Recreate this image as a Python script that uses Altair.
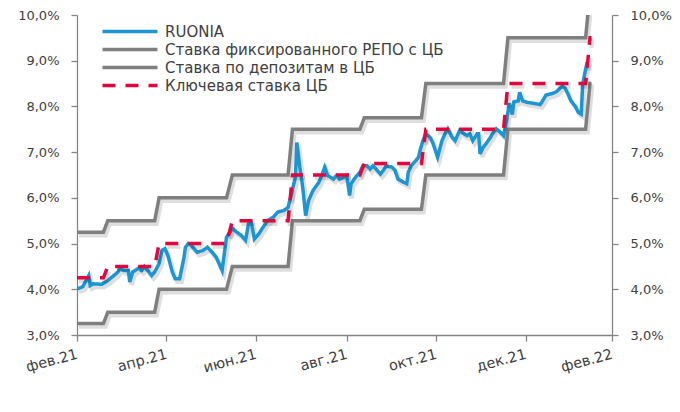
import altair as alt
import pandas as pd

# ---------------- data ----------------
ruonia_dates = [
    "2021-03-01", "2021-03-03", "2021-03-05", "2021-03-09", "2021-03-10", "2021-03-12",
    "2021-03-18", "2021-03-22", "2021-03-25", "2021-03-29", "2021-03-30", "2021-04-02",
    "2021-04-05", "2021-04-06", "2021-04-08", "2021-04-12", "2021-04-14", "2021-04-16",
    "2021-04-19", "2021-04-21", "2021-04-23", "2021-04-26", "2021-04-28", "2021-04-30",
    "2021-05-02", "2021-05-05", "2021-05-07", "2021-05-10", "2021-05-13", "2021-05-14",
    "2021-05-16", "2021-05-18", "2021-05-22", "2021-05-26", "2021-05-29", "2021-06-02",
    "2021-06-04", "2021-06-08", "2021-06-11", "2021-06-15", "2021-06-18", "2021-06-21",
    "2021-06-24", "2021-06-26", "2021-06-28", "2021-06-30", "2021-07-03", "2021-07-06",
    "2021-07-09", "2021-07-13", "2021-07-16", "2021-07-20", "2021-07-23", "2021-07-25",
    "2021-07-28", "2021-07-29", "2021-07-31", "2021-08-02", "2021-08-04", "2021-08-06",
    "2021-08-09", "2021-08-13", "2021-08-15", "2021-08-17", "2021-08-19", "2021-08-23",
    "2021-08-25", "2021-08-27", "2021-08-30", "2021-09-01", "2021-09-03", "2021-09-04",
    "2021-09-07", "2021-09-10", "2021-09-12", "2021-09-15", "2021-09-17", "2021-09-19",
    "2021-09-21", "2021-09-24", "2021-09-26", "2021-09-28", "2021-10-02", "2021-10-04",
    "2021-10-06", "2021-10-10", "2021-10-12", "2021-10-13", "2021-10-15", "2021-10-18",
    "2021-10-20", "2021-10-21", "2021-10-23", "2021-10-25", "2021-10-28", "2021-10-30",
    "2021-11-02", "2021-11-05", "2021-11-07", "2021-11-09", "2021-11-12", "2021-11-14",
    "2021-11-17", "2021-11-20", "2021-11-22", "2021-11-24", "2021-11-26", "2021-11-29",
    "2021-11-30", "2021-12-01", "2021-12-03", "2021-12-05", "2021-12-08", "2021-12-10",
    "2021-12-12", "2021-12-15", "2021-12-17", "2021-12-19", "2021-12-21", "2021-12-23",
    "2021-12-24", "2021-12-27", "2021-12-28", "2021-12-30", "2022-01-02", "2022-01-06",
    "2022-01-11", "2022-01-13", "2022-01-15", "2022-01-19", "2022-01-22", "2022-01-26",
    "2022-01-28", "2022-01-30", "2022-02-01", "2022-02-04", "2022-02-06", "2022-02-08",
    "2022-02-09", "2022-02-12",
]
ruonia_values = [
    4.01, 4.03, 4.06, 4.30, 4.08, 4.12,
    4.11, 4.19, 4.27, 4.38, 4.45, 4.41,
    4.41, 4.16, 4.38, 4.46, 4.41, 4.50,
    4.38, 4.30, 4.38, 4.56, 4.85, 4.89,
    4.74, 4.38, 4.23, 4.23, 4.70, 4.92,
    5.00, 4.96, 4.81, 4.85, 4.92, 4.78,
    4.70, 4.41, 5.14, 5.33, 5.25, 5.18,
    5.07, 5.43, 5.45, 5.10, 5.21, 5.36,
    5.50, 5.58, 5.69, 5.72, 5.79, 6.05,
    6.45, 7.21, 6.67, 6.23, 5.61, 5.94,
    6.16, 6.34, 6.49, 6.67, 6.49, 6.41,
    6.49, 6.41, 6.45, 6.49, 6.05, 6.31,
    6.45, 6.56, 6.70, 6.70, 6.63, 6.70,
    6.63, 6.52, 6.60, 6.70, 6.67, 6.60,
    6.41, 6.34, 6.31, 6.56, 6.70, 6.81,
    6.89, 7.03, 7.25, 7.40, 7.32, 7.18,
    6.89, 7.25, 7.40, 7.51, 7.32, 7.25,
    7.47, 7.40, 7.36, 7.40, 7.25, 7.40,
    7.40, 6.96, 7.10, 7.18, 7.32, 7.43,
    7.51, 7.43, 7.36, 7.69, 8.07, 7.82,
    8.10, 8.12, 8.31, 8.12, 8.09, 8.07,
    8.04, 8.14, 8.25, 8.28, 8.32, 8.44,
    8.40, 8.27, 8.12, 8.00, 7.87, 7.83,
    8.49, 8.97,
]

rate_start = "2021-03-01"
rate_end = "2022-02-15"
rate_last_old_dates = ["2021-03-19", "2021-04-23", "2021-06-11", "2021-07-23",
                       "2021-09-10", "2021-10-22", "2021-12-17", "2022-02-11"]
rate_change_dates = ["2021-03-22", "2021-04-26", "2021-06-15", "2021-07-26",
                     "2021-09-13", "2021-10-25", "2021-12-20", "2022-02-14"]
key_rate = [4.25, 4.5, 5.0, 5.5, 6.5, 6.75, 7.5, 8.5, 9.5]
repo_rate = [5.25, 5.5, 6.0, 6.5, 7.5, 7.75, 8.5, 9.5, 10.5]
deposit_rate = [3.25, 3.5, 4.0, 4.5, 5.5, 5.75, 6.5, 7.5, 8.5]

series_names = ["RUONIA", "Ставка фиксированного РЕПО с ЦБ",
                "Ставка по депозитам в ЦБ", "Ключевая ставка ЦБ"]
series_colors = ["#1b96d3", "#7f7f7f", "#7f7f7f", "#e2063f"]
series_dashes = [[1, 0], [1, 0], [1, 0], [13, 10]]

tick_month_keys = ["2021-03", "2021-05", "2021-07", "2021-09", "2021-11", "2022-01", "2022-03"]
tick_labels = ["фев.21", "апр.21", "июн.21", "авг.21", "окт.21", "дек.21", "фев.22"]
y_ticks = [3, 4, 5, 6, 7, 8, 9, 10]

# ---------------- build table ----------------
rows = [{"date": d, "value": v, "series": series_names[0]}
        for d, v in zip(ruonia_dates, ruonia_values)]


def step_rows(name, vals):
    out = [{"date": rate_start, "value": vals[0], "series": name}]
    for i, (d0, d1) in enumerate(zip(rate_last_old_dates, rate_change_dates)):
        out.append({"date": d0, "value": vals[i], "series": name})
        out.append({"date": d1, "value": vals[i + 1], "series": name})
    out.append({"date": rate_end, "value": vals[-1], "series": name})
    return out


rows += step_rows(series_names[1], repo_rate)
rows += step_rows(series_names[2], deposit_rate)
rows += step_rows(series_names[3], key_rate)
df = pd.DataFrame(rows)
df["date"] = pd.to_datetime(df["date"])

# ---------------- encodings ----------------
FONT = "DejaVu Sans"
TXT = "#404040"
AX = "#868686"

x_vals = [alt.DateTime(year=int(k[:4]), month=int(k[5:]), date=1) for k in tick_month_keys]
x_label_expr = "[" + ",".join(f"'{l}'" for l in tick_labels) + "][indexof([" + \
    ",".join(f"'{k}'" for k in tick_month_keys) + "], timeFormat(datum.value, '%Y-%m'))]"

x_enc = alt.X(
    "date:T",
    scale=alt.Scale(domain=[alt.DateTime(year=2021, month=3, date=1),
                            alt.DateTime(year=2022, month=3, date=1)]),
    axis=alt.Axis(values=x_vals, labelExpr=x_label_expr, title=None, grid=False,
                  labelAngle=345, labelAlign="right", labelBaseline="middle",
                  labelPadding=13, tickSize=6, labelFontSize=14.5, labelFont=FONT,
                  labelColor=TXT, domainColor=AX, tickColor=AX, domainWidth=1.3,
                  tickWidth=1.3, labelOverlap=False),
)

y_label_expr = "replace(format(datum.value, '.1f'), '.', ',') + '%'"


def y_enc(orient):
    return alt.Y(
        "value:Q",
        scale=alt.Scale(domain=[3, 10], nice=False, zero=False),
        axis=alt.Axis(values=y_ticks, labelExpr=y_label_expr, title=None, grid=False,
                      orient=orient, tickSize=6, labelPadding=12, labelFontSize=13,
                      labelFont=FONT, labelColor=TXT, domainColor=AX, tickColor=AX,
                      domainWidth=1.3, tickWidth=1.3),
    )


color_enc = alt.Color("series:N", scale=alt.Scale(domain=series_names, range=series_colors),
                      title=None)
dash_enc = alt.StrokeDash("series:N", scale=alt.Scale(domain=series_names, range=series_dashes),
                          title=None)

base = alt.Chart(df)


def series_layers(name, orient, dash):
    d = base.transform_filter(alt.datum.series == name)
    shadow = d.mark_line(clip=True, strokeWidth=4.5, color="#000000", opacity=0.13,
                         xOffset=2, yOffset=3, strokeDash=dash).encode(
        x=x_enc, y=y_enc(orient))
    main = d.mark_line(clip=True, strokeWidth=3.5).encode(
        x=x_enc, y=y_enc(orient), color=color_enc, strokeDash=dash_enc)
    return [shadow, main]


left = alt.layer(
    *series_layers(series_names[0], "left", [1, 0]),
    *series_layers(series_names[1], "left", [1, 0]),
    *series_layers(series_names[2], "left", [1, 0]),
)
right = alt.layer(*series_layers(series_names[3], "right", series_dashes[3]))

chart = alt.layer(left, right).resolve_scale(y="independent").properties(
    width=535, height=320,
    autosize=alt.AutoSizeParams(type="none"),
    padding={"left": 69, "top": 7, "right": 60, "bottom": 70},
).configure_view(stroke=None).configure_legend(
    orient="none", legendX=44, legendY=7.5, padding=0, symbolType="M-4,0H4",
    symbolSize=189, symbolStrokeWidth=3.5, labelFontSize=15, labelFont=FONT,
    labelColor=TXT, labelOffset=26, rowPadding=1, labelLimit=400,
)

chart.save("out.html", embed_options={"renderer": "svg", "actions": False})
